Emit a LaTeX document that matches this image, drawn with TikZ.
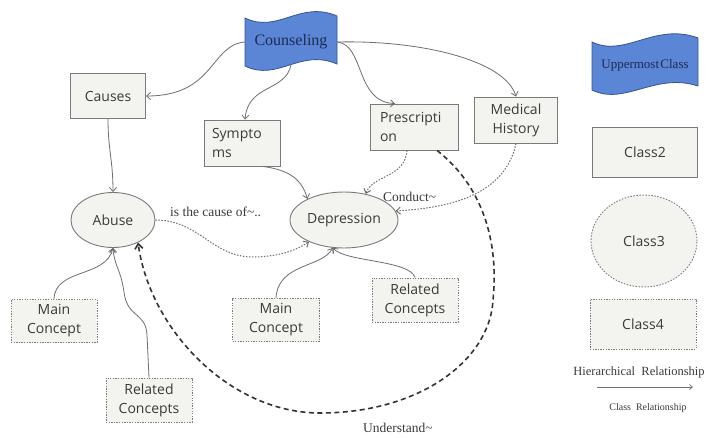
\documentclass[tikz,border=0pt]{standalone}
\usepackage{fontspec}
\setmainfont{Liberation Serif}
\newfontfamily\boxfont{Open Sans}
\usetikzlibrary{arrows.meta,shapes.geometric}
\definecolor{bluef}{HTML}{5B85D5}
\definecolor{blued}{HTML}{34558F}
\definecolor{boxf}{HTML}{F3F3EF}
\definecolor{boxd}{HTML}{7A7A7A}
\definecolor{txt}{HTML}{3A3A3A}
\definecolor{navy}{HTML}{1E2A55}
\definecolor{lin}{HTML}{6E6E6E}
\begin{document}
\begin{tikzpicture}[x=1pt,y=-1pt,
  cbox/.style={draw=boxd, fill=boxf, line width=0.9pt, font=\boxfont\fontsize{14}{19}\selectfont, text=txt, align=center, inner sep=2pt},
  dbox/.style={cbox, dash pattern=on 1.3pt off 1.3pt},
  cell/.style={cbox, ellipse, inner sep=0pt},
  banner/.style={draw=blued, fill=bluef, line width=0.8pt},
  conn/.style={draw=lin, line width=0.8pt, -{Straight Barb[length=4pt,width=7pt]}},
  dconn/.style={conn, draw=lin, dash pattern=on 1.5pt off 1.5pt, line width=1pt},
  bigdash/.style={draw=black!80, line width=1.6pt, dash pattern=on 5pt off 3.5pt, -{Straight Barb[length=5pt,width=8pt]}},
  lab/.style={font=\fontsize{13.5}{15}\selectfont, text=txt, inner sep=0pt}
]
\useasboundingbox (0,0) rectangle (713,437);
\fill[white] (0,0) rectangle (713,437);

% banners
\path[banner] (245,18) .. controls (278,34) and (300,0) .. (337,16) -- (337,64) .. controls (300,48) and (278,82) .. (245,66) -- cycle;
\node[font=\fontsize{16}{18}\selectfont, text=navy, minimum width=92pt, minimum height=46pt] (couns) at (291,42) {Counseling};

\path[banner] (592,42) .. controls (625,58) and (655,22) .. (698,38) -- (698,86) .. controls (655,72) and (625,106) .. (592,90) -- cycle;
\node[font=\fontsize{13}{15}\selectfont, text=navy, inner sep=0pt] (upper) at (645,65) {Uppermost\hspace{0.1em}Class};

% class 2 nodes
\node[cbox, minimum width=75pt, minimum height=45pt] (causes) at (108,96) {Causes};
\node[cbox, text width=60pt, align=left, inner xsep=8pt, minimum height=46pt] (symp) at (242,143) {Sympto\\ms};
\node[cbox, text width=68pt, align=left, inner xsep=10pt, minimum height=46pt] (presc) at (414,127) {Prescripti\\on};
\node[cbox, minimum width=83pt, minimum height=46pt] (med) at (516,120) {Medical\\History};

% class 3 nodes
\node[cell, minimum width=84pt, minimum height=55pt] (abuse) at (113,220) {Abuse};
\node[cell, minimum width=108pt, minimum height=56pt] (dep) at (344,220) {Depression};

% class 4 nodes
\node[dbox, minimum width=86pt, minimum height=43pt] (mcl) at (54,321) {Main\\Concept};
\node[dbox, minimum width=86pt, minimum height=44pt] (rcl) at (149,400) {Related\\Concepts};
\node[dbox, minimum width=87pt, minimum height=43pt] (mcm) at (276,320) {Main\\Concept};
\node[dbox, minimum width=86pt, minimum height=44pt] (rcm) at (415,300) {Related\\Concepts};

% legend
\node[cbox, minimum width=105pt, minimum height=50pt] (leg2) at (645,152) {Class2};
\node[cell, dash pattern=on 1.5pt off 1.5pt, minimum width=106pt, minimum height=92pt] (leg3) at (644,241) {Class3};
\node[dbox, minimum width=106pt, minimum height=50pt] (leg4) at (643,324) {Class4};
\node[font=\fontsize{12.5}{14}\selectfont, text=txt, inner sep=0pt] (hier) at (639,372) {Hierarchical\ \ Relationship};
\coordinate (la) at (597,387);
\coordinate (lb) at (693,387);
\draw[conn, line width=0.7pt, -{Straight Barb[length=3pt,width=5pt]}] (la) -- (lb);
\node[font=\fontsize{10}{12}\selectfont, text=txt, inner sep=0pt] (crel) at (648,408) {Class\ \ Relationship};

% labels
\node[lab, anchor=west] (lcause) at (170,212) {is the cause of\textasciitilde..};
\node[lab, anchor=west] (lcond) at (383,197) {Conduct\textasciitilde};
\node[lab] (lund) at (398,428) {Understand\textasciitilde};

% hierarchical connectors
\draw[conn] (couns.west) .. controls (210,45) and (215,96) .. (causes.east);
\draw[conn] (couns.south) .. controls (285,92) and (248,84) .. ([xshift=3pt]symp.north);
\draw[conn] (couns.east) .. controls (365,45) and (355,102) .. ([xshift=-19pt]presc.north);
\draw[conn] (couns.east) .. controls (420,40) and (505,60) .. (med.north);
\draw[conn] (causes.south) .. controls (108,150) and (113,160) .. (abuse.north);
\draw[conn] ([xshift=21pt]symp.south) .. controls (290,170) and (302,180) .. (dep.150);
\draw[conn] (mcl.north) .. controls (55,268) and (106,278) .. (abuse.south);
\draw[conn] (rcl.north) -- (147,335) .. controls (146,312) and (127,318) .. (124,292) .. controls (121,270) and (114,265) .. (abuse.south);
\draw[conn] (mcm.north) .. controls (278,263) and (322,268) .. (dep.248);
\draw[conn] (rcm.north) .. controls (410,260) and (345,262) .. (dep.248);

% class relationships
\draw[dconn] ([xshift=-7pt]presc.south) .. controls (405,178) and (372,175) .. (dep.50);
\draw[dconn] (med.south) .. controls (505,195) and (450,208) .. (dep.10);
\draw[dconn] (abuse.east) .. controls (200,220) and (212,258) .. (255,257) .. controls (282,256) and (296,250) .. (dep.212);
\draw[bigdash] ([xshift=23pt]presc.south) .. controls (475,180) and (500,230) .. (493,300) .. controls (490,360) and (420,413) .. (320,413) .. controls (230,413) and (150,330) .. (abuse.-42);
\end{tikzpicture}
\end{document}
